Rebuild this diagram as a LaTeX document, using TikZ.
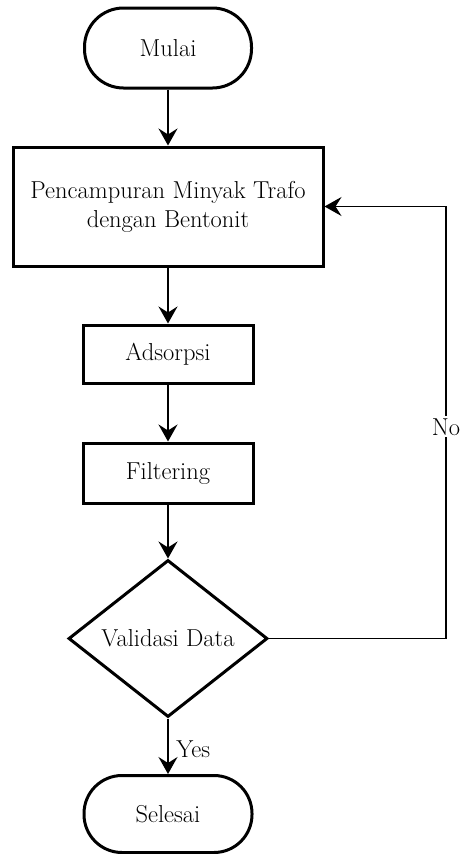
\documentclass[tikz,border=0pt]{standalone}
\usetikzlibrary{shapes.geometric,arrows.meta}
\begin{document}
\begin{tikzpicture}[x=1pt,y=-1pt,
  lbl/.style={font=\rmfamily\fontsize{24.5}{29}\selectfont, text=black},
  shapebox/.style={draw, line width=3pt, rectangle, inner sep=0pt, lbl, align=center},
  term/.style={shapebox, rounded corners=#1},
  decide/.style={draw, line width=3pt, diamond, aspect=1.27, inner sep=0pt, lbl, minimum width=199pt, minimum height=157pt},
  flow/.style={line width=2pt, -{Stealth[length=17pt,width=19pt,inset=6pt]}},
  back/.style={line width=1.6pt, -{Stealth[length=17pt,width=19pt,inset=6pt]}}
]
\useasboundingbox (0,0) rectangle (461,854);
\node[term=39pt, minimum width=167pt, minimum height=80pt] (start) at (168,48) {Mulai};
\node[shapebox, minimum width=310pt, minimum height=119pt] (mix) at (168,206.5) {Pencampuran Minyak Trafo\\dengan Bentonit};
\node[shapebox, minimum width=170pt, minimum height=58pt] (ads) at (168,354) {Adsorpsi};
\node[shapebox, minimum width=170pt, minimum height=60pt] (fil) at (168,473) {Filtering};
\node[decide] (val) at (168,638.5) {Validasi Data};
\node[term=38pt, minimum width=168pt, minimum height=77pt] (end) at (168,814) {Selesai};
\coordinate (cr) at (446,638.5);
\coordinate (ct) at (446,206.5);
\draw[flow] (start) -- (mix);
\draw[flow] (mix) -- (ads);
\draw[flow] (ads) -- (fil);
\draw[flow] (fil) -- (val);
\draw[flow] (val) -- node[lbl, right, xshift=4pt, yshift=-3pt] (yes) {Yes} (end);
\draw[back] (val.east) -- (cr) -- node[lbl, fill=white, inner sep=2pt, pos=0.49] (no) {No} (ct) -- (mix.east);
\end{tikzpicture}
\end{document}
